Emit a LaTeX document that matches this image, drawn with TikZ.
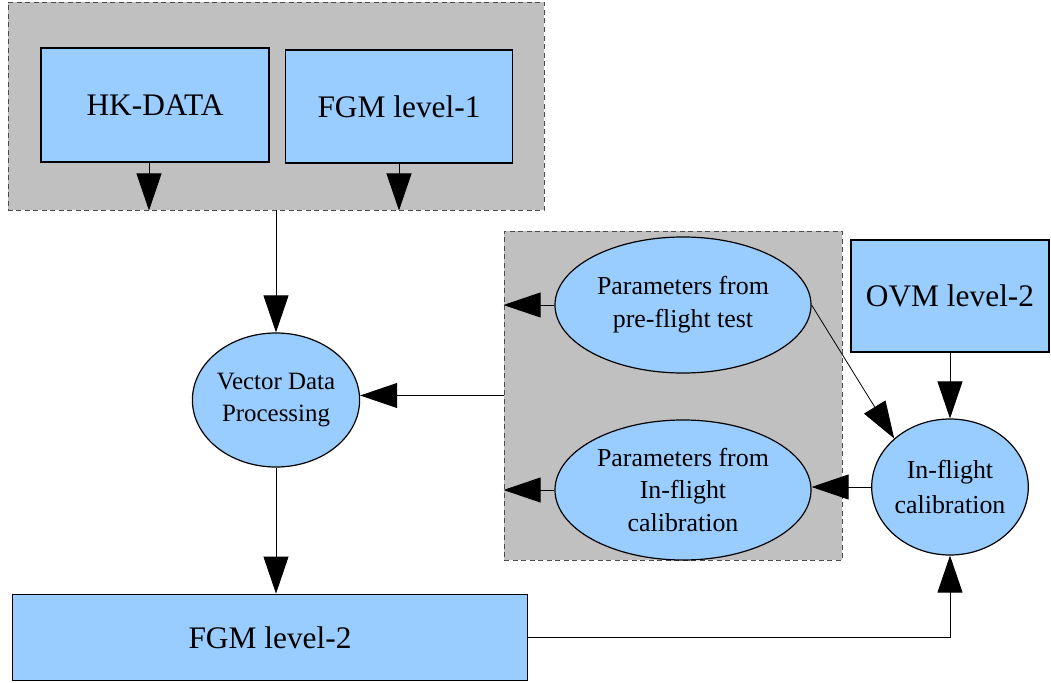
\documentclass[tikz,border=0pt]{standalone}
\usepackage{fontspec}
\setmainfont{Liberation Serif}
\usepackage{xcolor}
\usepackage{tikz}
\usetikzlibrary{shapes.geometric, arrows.meta, positioning}

\definecolor{boxblue}{HTML}{99CCFF}
\definecolor{groupgray}{HTML}{C0C0C0}

\begin{document}
\begin{tikzpicture}[x=1bp, y=-1bp,
  group/.style={draw=black!70, fill=groupgray, line width=0.9bp, dash pattern=on 5bp off 3.5bp, inner sep=0pt},
  databox/.style={draw, fill=boxblue, line width=1.8bp, inner sep=0pt, font=\fontsize{31.5}{36}\selectfont},
  procnode/.style={ellipse, draw, fill=boxblue, line width=1.2bp, inner sep=0pt, align=center, font=\fontsize{26}{33}\selectfont},
  line/.style={draw, line width=0.8bp, -{Triangle[length=37bp, width=25bp]}}]
\useasboundingbox (0,0) rectangle (1051,683);
% grouped inputs and parameters
\node[group, minimum width=536bp, minimum height=208bp] (inputs) at (276,106) {};
\node[group, minimum width=338bp, minimum height=329bp] (params) at (673,395.5) {};
% level-1 data
\node[databox, minimum width=228bp, minimum height=114bp] (hk) at (155,105) {HK-DATA};
\node[databox, minimum width=227bp, minimum height=113bp] (fgm1) at (399,106.5) {FGM level-1};
\node[databox, minimum width=198bp, minimum height=112bp] (ovm) at (950,296) {OVM level-2};
% processing steps
\node[procnode, minimum width=147bp, minimum height=134bp, font=\fontsize{25}{32}\selectfont] (vdp) at (276,400) {Vector Data\\Processing};
\node[procnode, minimum width=256bp, minimum height=136bp] (pre) at (683,305) {Parameters from\\pre-flight test};
\node[procnode, minimum width=256bp, minimum height=140bp] (cal) at (683,490) {Parameters from\\In-flight\\calibration};
\node[procnode, minimum width=145bp, minimum height=136bp, font=\fontsize{26}{36}\selectfont] (inf) at (950,487) {In-flight\\calibration};
% level-2 output
\node[databox, minimum width=515bp, minimum height=86bp] (fgm2) at (270,637.5) {FGM level-2};
% connectors
\draw[line] ([xshift=-6bp]hk.south) -- ([xshift=-6bp]hk.south |- inputs.south);
\draw[line] (fgm1.south) -- (fgm1.south |- inputs.south);
\draw[line] (inputs.south) -- (vdp.north);
\draw[line] (params.west) -- (params.west -| vdp.east);
\draw[line] (pre.west) -- (pre.west -| params.west);
\draw[line] (cal.west) -- (cal.west -| params.west);
\draw[line] (vdp.south) -- (vdp.south |- fgm2.north);
\draw[line] (ovm.south) -- (inf.north);
\draw[line] (pre.east) -- (inf.north west);
\draw[line] (inf.west) -- (inf.west -| cal.east);
\draw[line] (fgm2.east) -| (inf.south);
\end{tikzpicture}
\end{document}
